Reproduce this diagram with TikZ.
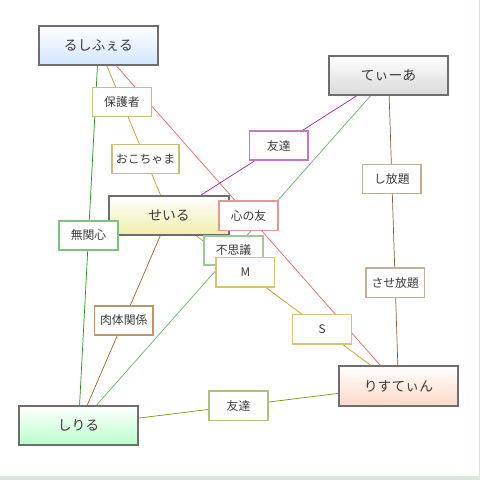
\documentclass[tikz,border=0pt]{standalone}
\usepackage{fontspec}
\setmainfont{Noto Sans CJK JP}
\usetikzlibrary{calc}
\definecolor{ink}{HTML}{3A3A3A}
\definecolor{boxline}{HTML}{6E6E6E}
\definecolor{strip}{HTML}{DCE5E0}
\definecolor{skyfill}{HTML}{D2E6FF}
\definecolor{greyfill}{HTML}{DADADA}
\definecolor{lemonfill}{HTML}{EEEEAA}
\definecolor{peachfill}{HTML}{FFD8C8}
\definecolor{mintfill}{HTML}{BAFFCA}
\definecolor{olive}{HTML}{B0A030}
\definecolor{olivebox}{HTML}{C8C078}
\definecolor{leaf}{HTML}{209020}
\definecolor{leafbox}{HTML}{7CC47C}
\definecolor{rose}{HTML}{E06868}
\definecolor{rosebox}{HTML}{E09898}
\definecolor{plum}{HTML}{A020A0}
\definecolor{plumbox}{HTML}{C078C8}
\definecolor{sage}{HTML}{70B070}
\definecolor{sagebox}{HTML}{9CC89C}
\definecolor{bark}{HTML}{8C6040}
\definecolor{barkbox}{HTML}{C0AE98}
\definecolor{mustard}{HTML}{C0A028}
\definecolor{mustardbox}{HTML}{D8C470}
\definecolor{rust}{HTML}{A0602C}
\definecolor{rustbox}{HTML}{C0946C}
\definecolor{moss}{HTML}{809010}
\definecolor{mossbox}{HTML}{B0C078}

\begin{document}
\begin{tikzpicture}[x=0.03cm, y=-0.03cm,
  person/.style={draw=boxline, line width=1.5pt, minimum width=3.58cm,
    minimum height=1.18cm, text=ink, top color=white, bottom color=#1,
    font=\fontsize{11.8}{13}\selectfont},
  rel/.style={draw=#1, line width=1.2pt, fill=white, minimum width=1.76cm,
    minimum height=0.88cm, text=ink, font=\fontsize{10.1}{12}\selectfont},
  link/.style={draw=#1, line width=0.6pt}
]
\useasboundingbox (0,0) rectangle (480,480);
\fill[white] (0,0) rectangle (480,480);
\fill[strip] (0,476) rectangle (480,480);
\fill[strip] (479,0) rectangle (480,480);

\node[person=skyfill] (rusi) at (98.5,45.5) {るしふぇる};
\node[person=greyfill] (teia) at (388.5,75.5) {てぃーあ};
\node[person=lemonfill] (seiru) at (169,215.5) {せいる};
\node[person=peachfill] (ristin) at (398.5,386) {りすてぃん};
\node[person=mintfill] (shiriru) at (78.5,425.5) {しりる};

\draw[link=leaf] (rusi) -- (shiriru);
\draw[link=olive] (rusi) -- (seiru);
\draw[link=rose] (rusi) -- (ristin);
\draw[link=plum] (teia) -- (seiru);
\draw[link=sage] (teia) -- (shiriru);
\draw[link=bark] (teia) -- (ristin);
\draw[link=mustard] (seiru) -- (ristin);
\draw[link=rust] (seiru) -- (shiriru);
\draw[link=moss] (shiriru) -- (ristin);

\node[rel=olivebox] (hogo) at ($(rusi)!.333!(seiru)$) {保護者};
\node[rel=olivebox] (okocha) at ($(seiru)!.333!(rusi)$) {おこちゃま};
\node[rel=plumbox] (tomo) at ($(teia)!.5!(seiru)$) {友達};
\node[rel=leafbox] (mukan) at ($(rusi)!.5!(shiriru)$) {無関心};
\node[rel=rosebox] (kokoro) at ($(rusi)!.5!(ristin)$) {心の友};
\node[rel=sagebox] (fushigi) at ($(teia)!.5!(shiriru)$) {不思議};
\node[rel=mustardbox] (emu) at ($(seiru)!.333!(ristin)$) {M};
\node[rel=mustardbox] (esu) at ($(ristin)!.333!(seiru)$) {S};
\node[rel=rustbox] (niku) at ($(seiru)!.5!(shiriru)$) {肉体関係};
\node[rel=barkbox] (shiho) at ($(teia)!.333!(ristin)$) {し放題};
\node[rel=barkbox] (saseho) at ($(ristin)!.333!(teia)$) {させ放題};
\node[rel=mossbox] (yuujin) at ($(shiriru)!.5!(ristin)$) {友達};
\end{tikzpicture}
\end{document}
